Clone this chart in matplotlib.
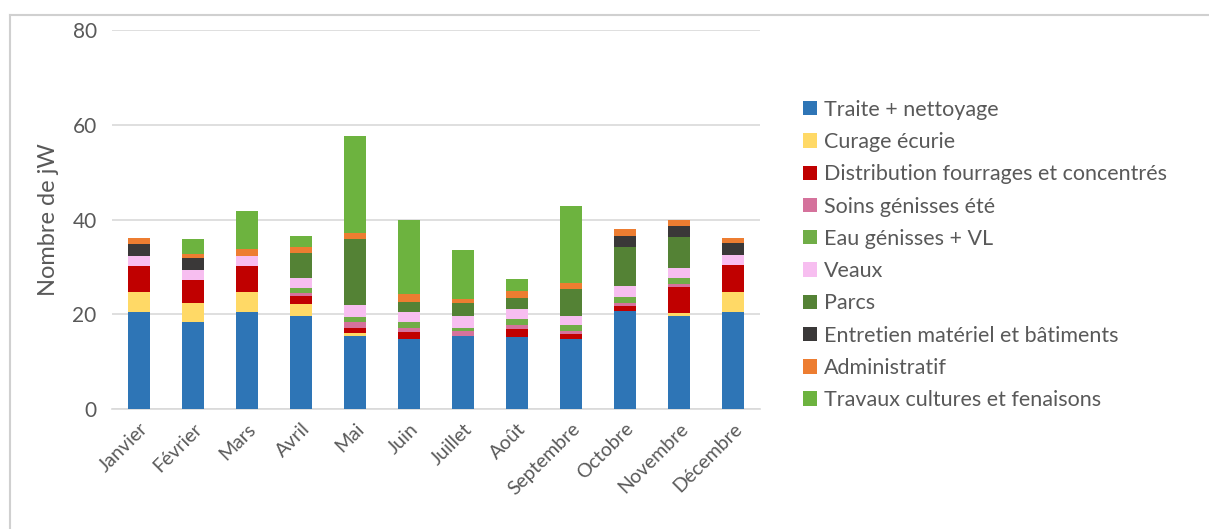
import numpy as np
import matplotlib.pyplot as plt
from matplotlib.lines import Line2D

plt.rcParams['font.family'] = ['Lato', 'DejaVu Sans']

mois = ['Janvier', 'Février', 'Mars', 'Avril', 'Mai', 'Juin', 'Juillet', 'Août',
        'Septembre', 'Octobre', 'Novembre', 'Décembre']

# values (jW per month)
traite = [20.5, 18.3, 20.5, 19.6, 15.4, 14.7, 15.4, 15.3, 14.7, 20.7, 19.6, 20.5]
curage = [4.3, 4.0, 4.3, 2.5, 0.6, 0.0, 0.0, 0.0, 0.0, 0.0, 0.6, 4.2]
distribution = [5.4, 4.9, 5.4, 1.7, 1.2, 1.5, 0.0, 1.5, 1.1, 1.0, 5.5, 5.7]
soins = [0.0, 0.0, 0.0, 0.6, 1.1, 1.0, 1.1, 0.9, 0.7, 0.7, 0.7, 0.0]
eau = [0.0, 0.0, 0.0, 1.2, 1.2, 1.1, 0.7, 1.2, 1.2, 1.2, 1.2, 0.0]
veaux = [2.1, 2.1, 2.2, 2.1, 2.4, 2.2, 2.5, 2.3, 2.0, 2.3, 2.1, 2.2]
parcs = [0.0, 0.0, 0.0, 5.3, 14.0, 2.1, 2.6, 2.2, 5.6, 8.3, 6.7, 0.0]
entretien = [2.5, 2.5, 0.0, 0.0, 0.0, 0.0, 0.0, 0.0, 0.0, 2.3, 2.2, 2.4]
administratif = [1.4, 1.0, 1.3, 1.2, 1.2, 1.7, 0.9, 1.5, 1.2, 1.4, 1.4, 1.2]
travaux = [0.0, 3.1, 8.2, 2.3, 20.6, 15.7, 10.3, 2.5, 16.3, 0.0, 0.0, 0.0]

series = [
    ('Traite + nettoyage', traite, '#2E75B6'),
    ('Curage écurie', curage, '#FFD966'),
    ('Distribution fourrages et concentrés', distribution, '#C00000'),
    ('Soins génisses été', soins, '#D5729C'),
    ('Eau génisses + VL', eau, '#70AD47'),
    ('Veaux', veaux, '#F7BEF0'),
    ('Parcs', parcs, '#548235'),
    ('Entretien matériel et bâtiments', entretien, '#3A3838'),
    ('Administratif', administratif, '#ED7D31'),
    ('Travaux cultures et fenaisons', travaux, '#6DB33F'),
]

fig = plt.figure(figsize=(12.09, 5.29), dpi=100)
ax = fig.add_axes([0.0926, 0.2268, 0.5360, 0.7165])

x = np.arange(len(mois))
bottom = np.zeros(len(mois))
for label, vals, color in series:
    ax.bar(x, vals, width=0.4, bottom=bottom, color=color, label=label, zorder=3)
    bottom += np.array(vals)

ax.set_xlim(-0.5, len(mois) - 0.5)
ax.set_ylim(0, 80)
ax.set_yticks([0, 20, 40, 60, 80])
ax.yaxis.grid(True, color='#D9D9D9', linewidth=1.2, zorder=0)
for s in ['top', 'right', 'left']:
    ax.spines[s].set_visible(False)
ax.spines['bottom'].set_color('#D9D9D9')
ax.spines['bottom'].set_linewidth(1.2)
ax.tick_params(axis='y', length=0, labelsize=15, colors='#595959', pad=11)
ax.set_xticks(x)
ax.set_xticklabels(mois, rotation=45, ha='right', rotation_mode='anchor')
ax.tick_params(axis='x', length=0, pad=8, labelsize=14, colors='#595959')
ax.set_ylabel('Nombre de jW', fontsize=17, color='#595959', labelpad=10)

handles, labels = ax.get_legend_handles_labels()
fig.legend(handles, labels, loc='center left', bbox_to_anchor=(0.648, 0.518),
           frameon=False, fontsize=15.5, labelcolor='#595959',
           handlelength=0.65, handleheight=0.65, handletextpad=0.35,
           labelspacing=0.57)

# light chart border (top and left edges visible in the reference)
fig.add_artist(Line2D([0.008, 0.999], [0.972, 0.972], color='#D0D0D0', lw=1.5))
fig.add_artist(Line2D([0.008, 0.008], [0.0, 0.972], color='#D0D0D0', lw=1.5))

fig.savefig('out.png', dpi=100)
